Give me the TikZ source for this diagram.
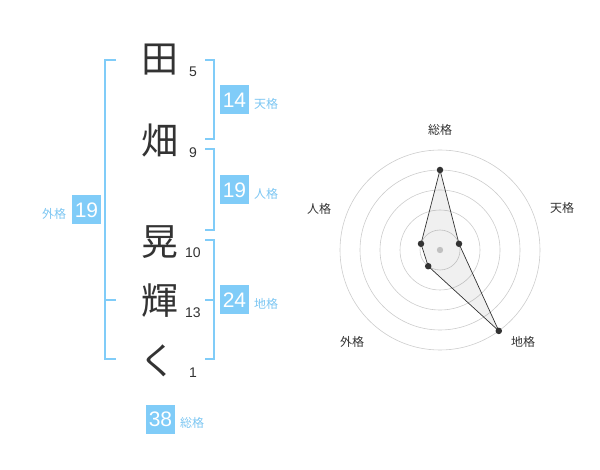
\documentclass[tikz,border=0pt]{standalone}
\usepackage{fontspec}
\setmainfont{Liberation Sans}
\newfontfamily\jp{Noto Sans CJK JP}
\definecolor{kblue}{HTML}{80CCF8}
\definecolor{klabel}{HTML}{7CC6F2}
\definecolor{kdark}{HTML}{333333}
\definecolor{kgrid}{HTML}{CCCCCC}
\begin{document}
\begin{tikzpicture}[x=1pt,y=-1pt,
  bigchar/.style={font=\jp\fontsize{37}{37}\selectfont, text=kdark, inner sep=0pt},
  stroke/.style={font=\fontsize{14}{14}\selectfont, text=kdark, inner sep=0pt},
  box/.style={fill=kblue, text=white, minimum width=29pt, minimum height=29pt, inner sep=0pt, font=\fontsize{21}{21}\selectfont},
  lab/.style={font=\jp\fontsize{12}{12}\selectfont, text=klabel, inner sep=0pt},
  brk/.style={draw=kblue, line width=1.3pt},
  rlab/.style={font=\jp\fontsize{12}{12}\selectfont, text=kdark, inner sep=0pt},
  ring/.style={draw=kgrid, line width=0.6pt},
  dot/.style={circle, fill=kdark, minimum size=6.5pt, inner sep=0pt}]
\useasboundingbox (0,0) rectangle (600,470);
% characters
\node[bigchar] (c1) at (160,60) {田};
\node[bigchar] (c2) at (160,141) {畑};
\node[bigchar] (c3) at (160,242) {晃};
\node[bigchar] (c4) at (160,301) {輝};
\node[bigchar] (c5) at (158,361) {く};
\node[stroke] (s1) at (193,72) {5};
\node[stroke] (s2) at (193,153) {9};
\node[stroke] (s3) at (193,253) {10};
\node[stroke] (s4) at (193,313) {13};
\node[stroke] (s5) at (193,373) {1};
% brackets
\coordinate (la) at (116,60); \coordinate (lb) at (116,359); \coordinate (lm) at (116,300);
\draw[brk] (la) -- (105,60) -- (105,359) -- (lb);
\draw[brk] (105,300) -- (lm);
\coordinate (ta) at (205,60); \coordinate (tb) at (205,139);
\draw[brk] (ta) -- (214,60) -- (214,139) -- (tb);
\coordinate (ja) at (205,149); \coordinate (jb) at (205,230);
\draw[brk] (ja) -- (214,149) -- (214,230) -- (jb);
\coordinate (ca) at (205,240); \coordinate (cb) at (205,359); \coordinate (cm) at (205,300);
\draw[brk] (ca) -- (214,240) -- (214,359) -- (cb);
\draw[brk] (214,300) -- (cm);
% boxes
\node[box] (b1) at (234.5,100) {14};
\node[lab] (l1) at (266,104) {天格};
\node[box] (b2) at (234.5,190) {19};
\node[lab] (l2) at (266,194) {人格};
\node[box] (b3) at (234.5,300) {24};
\node[lab] (l3) at (266,304) {地格};
\node[box] (b4) at (86.5,210) {19};
\node[lab] (l4) at (54,214) {外格};
\node[box] (b5) at (160.5,419) {38};
\node[lab] (l5) at (192,423) {総格};
% radar
\coordinate (o) at (440,250);
\foreach \r in {20,40,60,80,100} \draw[ring] (o) circle[radius=\r];
\fill[kgrid] (o) circle[radius=3.2];
\coordinate (p1) at (440,170);
\coordinate (p2) at (459.0,243.8);
\coordinate (p3) at (498.8,330.9);
\coordinate (p4) at (428.2,266.2);
\coordinate (p5) at (421.0,243.8);
\filldraw[fill=black, fill opacity=0.06, draw=kdark, line width=0.7pt] (p1) -- (p2) -- (p3) -- (p4) -- (p5) -- cycle;
\foreach \p in {p1,p2,p3,p4,p5} \node[dot] at (\p) {};
\node[rlab] (r1) at (440,130) {総格};
\node[rlab] (r2) at (562,208) {天格};
\node[rlab] (r3) at (523,342) {地格};
\node[rlab] (r4) at (352,342) {外格};
\node[rlab] (r5) at (319,209) {人格};
\end{tikzpicture}
\end{document}
